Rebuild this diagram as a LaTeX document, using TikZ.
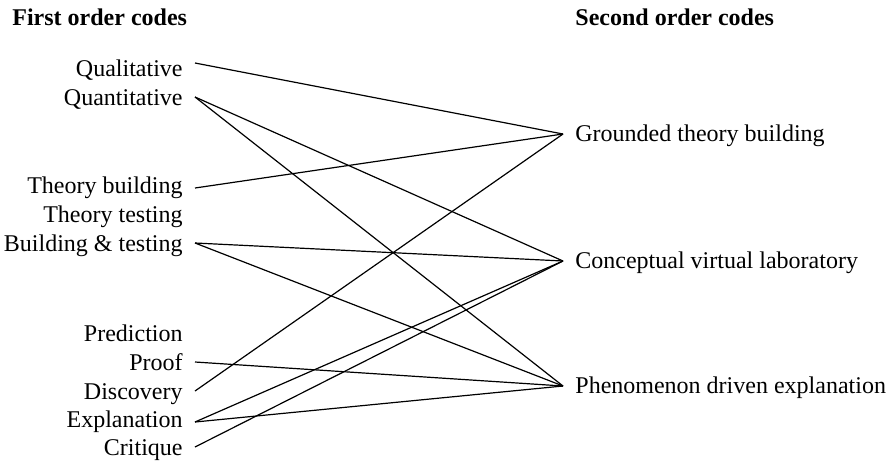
\documentclass[tikz,border=0pt]{standalone}
\usepackage{fontspec}
\setmainfont{Liberation Serif}
\begin{document}
\begin{tikzpicture}[x=0.5pt,y=-0.5pt,
  lbl/.style={font=\fontsize{12}{14.4}\selectfont, inner xsep=6pt, inner ysep=0pt, text height=8pt, text depth=0pt, anchor=base east},
  rbl/.style={font=\fontsize{12}{14.4}\selectfont, inner xsep=6pt, inner ysep=0pt, text height=7pt, text depth=0pt, anchor=base west},
  head/.style={font=\fontsize{12}{14.4}\selectfont\bfseries, inner sep=0pt, anchor=base west},
  link/.style={line width=0.6pt, black}]
\useasboundingbox (0,0) rectangle (888,461);
% headings
\node[head] (h1) at (12,25) {First order codes};
\node[head] (h2) at (575,25) {Second order codes};
% first order codes
\node[lbl] (ql) at (195,76) {Qualitative};
\node[lbl] (qn) at (195,105) {Quantitative};
\node[lbl] (tb) at (195,193) {Theory building};
\node[lbl] (tt) at (195,222) {Theory testing};
\node[lbl] (bt) at (195,251) {Building \& testing};
\node[lbl] (pr) at (195,341) {Prediction};
\node[lbl] (pf) at (195,370) {Proof};
\node[lbl] (di) at (195,399) {Discovery};
\node[lbl] (ex) at (195,427) {Explanation};
\node[lbl] (cr) at (195,455) {Critique};
% second order codes
\node[rbl] (gt) at (563,141) {Grounded theory building};
\node[rbl] (cv) at (563,268) {Conceptual virtual laboratory};
\node[rbl] (pe) at (563,393) {Phenomenon driven explanation};
% connectors
\draw[link] ([yshift=2.5pt]ql.east) -- (gt.west);
\draw[link] (qn.east) -- (cv.west);
\draw[link] (qn.east) -- (pe.west);
\draw[link] ([yshift=-1.5pt]tb.east) -- (gt.west);
\draw[link] (bt.east) -- (cv.west);
\draw[link] (bt.east) -- (pe.west);
\draw[link] (pf.east) -- (pe.west);
\draw[link] (di.east) -- (gt.west);
\draw[link] ([yshift=-1.5pt]ex.east) -- (cv.west);
\draw[link] ([yshift=-1.5pt]ex.east) -- (pe.west);
\draw[link] (cr.east) -- (cv.west);
\end{tikzpicture}
\end{document}
